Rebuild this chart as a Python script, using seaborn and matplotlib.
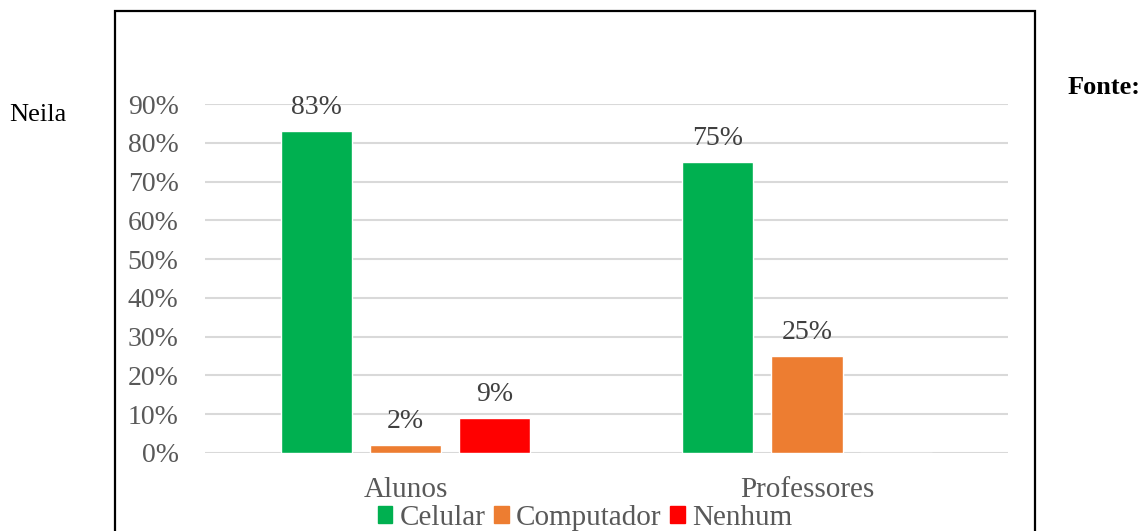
import matplotlib
matplotlib.use('Agg')
import matplotlib.pyplot as plt
import matplotlib.patches as mpatches
import seaborn as sns
import pandas as pd

grupos = ['Alunos', 'Professores']
tipos = ['Celular', 'Computador', 'Nenhum']
celular = [0.83, 0.75]
computador = [0.02, 0.25]
nenhum = [0.09, 0.0]
cores = ['#00B050', '#ED7D31', '#FF0000']
yticks = [0, 0.1, 0.2, 0.3, 0.4, 0.5, 0.6, 0.7, 0.8, 0.9]

df = pd.DataFrame({
    'grupo': grupos * 3,
    'tipo': [t for t in tipos for _ in grupos],
    'valor': celular + computador + nenhum,
})

sns.set_theme(style='white')
plt.rcParams['font.family'] = ['Liberation Serif', 'DejaVu Serif']

fig = plt.figure(figsize=(11.45, 5.31), dpi=100)
ax = fig.add_axes([0.179, 0.1469, 0.701, 0.6572])

sns.barplot(data=df, x='grupo', y='valor', hue='tipo', hue_order=tipos,
            palette=cores, width=0.666, gap=0.2, ax=ax, legend=False,
            saturation=1)

for cont in ax.containers:
    for bar in cont:
        h = bar.get_height()
        if h > 0:
            ax.text(bar.get_x() + bar.get_width() / 2, h + 0.028, f'{h*100:.0f}%',
                    ha='center', va='bottom', fontsize=20, color='#404040')

ax.set_ylim(0, 0.9)
ax.set_xlim(-0.5, 1.5)
ax.set_yticks(yticks)
ax.set_yticklabels([f'{v*100:.0f}%' for v in yticks])
ax.yaxis.grid(True, color='#d9d9d9', linewidth=1.5)
ax.set_axisbelow(True)
for s in ax.spines.values():
    s.set_visible(False)
ax.tick_params(axis='y', length=0, pad=19, labelsize=20, labelcolor='#595959')
ax.tick_params(axis='x', length=0, pad=17, labelsize=21, labelcolor='#595959')
ax.set_xlabel('')
ax.set_ylabel('')

handles = [mpatches.Patch(color=c, label=t) for c, t in zip(cores, tipos)]
leg = fig.legend(handles=handles, loc='center', bbox_to_anchor=(0.511, 0.025),
                 ncol=3, frameon=False, fontsize=21, handlelength=0.5,
                 handleheight=0.5, handletextpad=0.25, columnspacing=0.3,
                 borderaxespad=0, borderpad=0)
for t in leg.get_texts():
    t.set_color('#595959')

# moldura do grafico
box = mpatches.Rectangle((115 / 1145, -0.05), 920 / 1145, 1 - 11 / 531 + 0.05,
                         transform=fig.transFigure, fill=False,
                         edgecolor='black', linewidth=1.6, clip_on=False)
fig.patches.append(box)

fig.text(9 / 1145, 1 - 115 / 531, 'Neila', fontsize=19, color='black',
         ha='left', va='center')
fig.text(1068 / 1145, 1 - 88 / 531, 'Fonte:', fontsize=19, color='black',
         fontweight='bold', ha='left', va='center')

fig.savefig('out.png', dpi=100)
